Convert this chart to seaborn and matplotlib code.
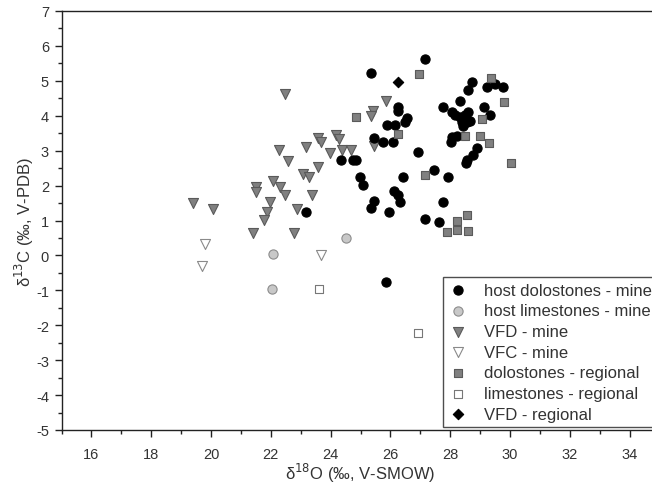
import matplotlib
matplotlib.use("Agg")
import matplotlib.pyplot as plt
import seaborn as sns
import pandas as pd
from matplotlib.ticker import MultipleLocator

# ---------------- data (d18O V-SMOW, d13C V-PDB) ----------------
host_dol_x = [27.16, 25.34, 26.24, 26.26, 26.55, 26.49, 25.88, 26.15, 25.45, 25.76,
              26.08, 24.35, 24.76, 24.85, 26.93, 24.98, 25.07, 26.43, 26.13, 26.26,
              26.32, 25.45, 25.34, 25.95, 27.16, 27.64, 27.75, 27.94, 27.46, 23.17,
              25.85, 28.72, 28.61, 29.22, 29.50, 29.76, 28.33, 27.75, 28.05, 28.16,
              28.33, 28.50, 28.61, 28.38, 28.55, 28.66, 28.44, 29.13, 29.33, 28.05,
              28.02, 28.22, 28.91, 28.75, 28.55, 28.53]
host_dol_y = [5.62, 5.22, 4.24, 4.14, 3.93, 3.83, 3.73, 3.73, 3.35, 3.24,
              3.24, 2.74, 2.74, 2.74, 2.95, 2.26, 2.01, 2.25, 1.85, 1.73,
              1.52, 1.55, 1.35, 1.25, 1.04, 0.96, 1.54, 2.26, 2.45, 1.25,
              -0.76, 4.96, 4.74, 4.81, 4.91, 4.81, 4.43, 4.24, 4.11, 4.02,
              3.95, 4.02, 4.11, 3.81, 3.81, 3.86, 3.70, 4.24, 4.02, 3.38,
              3.24, 3.43, 3.07, 2.87, 2.74, 2.64]

host_lim_x = [22.08, 22.03, 24.51]
host_lim_y = [0.04, -0.95, 0.49]

vfd_mine_x = [22.47, 22.28, 22.59, 23.18, 23.57, 23.68, 24.17, 24.28, 23.98, 24.37,
              24.68, 23.59, 23.07, 23.29, 22.08, 21.51, 21.51, 22.31, 22.47, 23.37,
              21.97, 21.86, 21.78, 22.87, 19.39, 20.08, 21.39, 22.78, 25.85, 25.43,
              25.34, 25.46]
vfd_mine_y = [4.62, 3.03, 2.71, 3.11, 3.35, 3.24, 3.45, 3.33, 2.93, 3.03,
              3.03, 2.52, 2.33, 2.24, 2.14, 1.95, 1.81, 1.95, 1.73, 1.73,
              1.52, 1.23, 1.02, 1.33, 1.50, 1.33, 0.64, 0.64, 4.43, 4.14,
              4.00, 3.12]

vfc_mine_x = [19.81, 19.69, 23.67]
vfc_mine_y = [0.34, -0.29, 0.01]

dol_reg_x = [26.97, 24.85, 26.24, 27.16, 29.35, 29.80, 29.05, 28.50, 29.00, 29.31,
             30.02, 28.57, 28.22, 28.61, 27.88, 28.24]
dol_reg_y = [5.19, 3.97, 3.48, 2.30, 5.07, 4.38, 3.91, 3.43, 3.42, 3.22,
             2.66, 1.17, 0.98, 0.71, 0.66, 0.73]

lim_reg_x = [23.62, 26.93]
lim_reg_y = [-0.95, -2.21]

vfd_reg_x = [26.26]
vfd_reg_y = [4.98]

legend_labels = ["host dolostones - mine", "host limestones - mine", "VFD - mine",
                 "VFC - mine", "dolostones - regional", "limestones - regional",
                 "VFD - regional"]

x_ticks = list(range(16, 36, 2))
y_ticks = list(range(-5, 8, 1))

# ---------------- styling ----------------
sns.set_theme(style="white")
plt.rcParams['font.family'] = ['Liberation Sans', 'DejaVu Sans']
plt.rcParams['axes.unicode_minus'] = False

fig = plt.figure(figsize=(6.52, 4.85), dpi=100)
ax = fig.add_axes([61.5 / 652, 54 / 485, 598 / 652, 419 / 485])

groups = [
    # (x, y, label, marker, face, edge, size)
    (vfd_mine_x, vfd_mine_y, legend_labels[2], "v", "#808080", "#5a5a5a", 52),
    (vfc_mine_x, vfc_mine_y, legend_labels[3], "v", "#ffffff", "#8a8a8a", 52),
    (host_lim_x, host_lim_y, legend_labels[1], "o", "#c8c8c8", "#8c8c8c", 44),
    (host_dol_x, host_dol_y, legend_labels[0], "o", "#000000", "#000000", 44),
    (dol_reg_x, dol_reg_y, legend_labels[4], "s", "#808080", "#5a5a5a", 34),
    (lim_reg_x, lim_reg_y, legend_labels[5], "s", "#ffffff", "#777777", 34),
    (vfd_reg_x, vfd_reg_y, legend_labels[6], "D", "#000000", "#000000", 28),
]

for gx, gy, lab, mk, fc, ec, sz in groups:
    df = pd.DataFrame({"d18O": gx, "d13C": gy})
    sns.scatterplot(data=df, x="d18O", y="d13C", ax=ax, marker=mk, color=fc,
                    edgecolor=ec, linewidth=0.8, s=sz, label=lab, zorder=3)

ax.set_xlim(15, 35)
ax.set_ylim(-5, 7)
ax.set_xticks(x_ticks)
ax.set_yticks(y_ticks)
ax.xaxis.set_minor_locator(MultipleLocator(1))
ax.yaxis.set_minor_locator(MultipleLocator(0.5))
ax.tick_params(axis="both", which="major", direction="out", length=5, width=1,
               color="#222222", labelsize=10.5, labelcolor="#333333",
               bottom=True, left=True)
ax.tick_params(axis="x", which="major", pad=7)
ax.tick_params(axis="y", which="major", pad=4)
ax.tick_params(axis="both", which="minor", direction="out", length=3, width=1,
               color="#222222", bottom=True, left=True)
for side in ["left", "bottom", "top"]:
    ax.spines[side].set_color("#222222")
    ax.spines[side].set_linewidth(1.0)
ax.spines["right"].set_visible(False)

ax.set_xlabel("δ$^{18}$O (‰, V-SMOW)", fontsize=12, color="#333333", labelpad=0)
ax.set_ylabel("δ$^{13}$C (‰, V-PDB)", fontsize=12, color="#333333", labelpad=0)

handles, labels = ax.get_legend_handles_labels()
order = [labels.index(l) for l in legend_labels]
leg = ax.legend([handles[i] for i in order], [labels[i] for i in order],
                loc="lower left", bbox_to_anchor=((443 - 61.5) / 598, 0.006),
                fontsize=12, frameon=True, fancybox=False, borderpad=0.35,
                labelspacing=0.34, handletextpad=1.0, handlelength=1.1,
                borderaxespad=0, edgecolor="#222222")
leg.get_frame().set_linewidth(1.0)
for t in leg.get_texts():
    t.set_color("#333333")

fig.savefig("out.png", dpi=100)
